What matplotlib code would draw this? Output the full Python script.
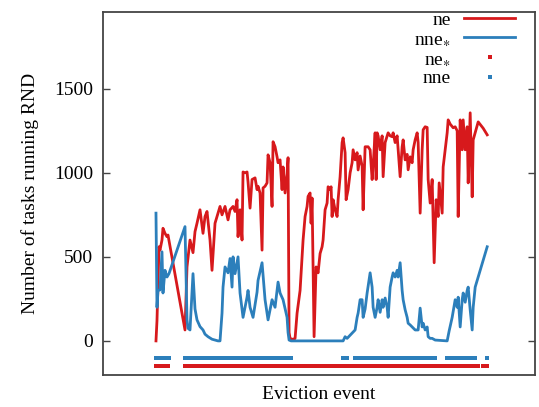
import numpy as np
import matplotlib as mpl
mpl.use('Agg')
import matplotlib.pyplot as plt

plt.rcParams['font.family'] = ['Liberation Serif', 'DejaVu Serif']
plt.rcParams['mathtext.fontset'] = 'stix'

# eviction event index (first event = 0) and number of tasks running RND
ne_x = [1, 2, 4, 5, 7, 8, 10, 12, 13, 30,
        32, 35, 38, 40, 42, 45, 48, 50, 52, 55,
        57, 60, 63, 65, 67, 70, 73, 75, 78, 80,
        82, 83, 85, 87, 88, 90, 92, 93, 95, 97,
        100, 102, 103, 105, 107, 108, 110, 112, 113, 115,
        117, 118, 120, 122, 123, 125, 127, 128, 130, 132,
        133, 134, 135, 137, 139, 140, 142, 145, 147, 148,
        150, 152, 153, 155, 156, 157, 159, 161, 163, 165,
        167, 168, 170, 172, 173, 175, 176, 177, 178, 180,
        182, 183, 185, 187, 188, 190, 191, 193, 195, 197,
        198, 200, 202, 203, 205, 207, 208, 210, 213, 215,
        217, 218, 220, 221, 222, 223, 225, 227, 228, 230,
        233, 235, 237, 238, 240, 242, 245, 247, 248, 250,
        252, 253, 255, 257, 258, 260, 262, 263, 265, 267,
        268, 270, 272, 273, 275, 277, 278, 279, 281, 283,
        284, 287, 288, 290, 292, 293, 295, 298, 300, 302,
        303, 305, 307, 308, 310, 312, 313, 315, 317, 318,
        320, 323, 328, 332]
ne_y = [0, 120, 560, 540, 600, 670, 640, 620, 630, 65,
        440, 600, 525, 650, 700, 780, 640, 740, 770, 600,
        420, 700, 760, 800, 750, 800, 720, 780, 800, 770,
        840, 620, 780, 600, 1005, 1000, 1005, 945, 790, 960,
        970, 900, 920, 880, 540, 910, 920, 940, 1107, 1060,
        800, 1185, 1155, 1095, 1060, 1077, 900, 1035, 880, 1000,
        1090, 50, 15, 10, 10, 15, 165, 300, 500, 600,
        740, 800, 860, 880, 700, 850, 25, 440, 405, 520,
        560, 600, 780, 820, 917, 900, 917, 740, 840, 780,
        740, 840, 977, 1180, 1208, 1120, 840, 900, 1000, 1060,
        1137, 1077, 1120, 1017, 1100, 1040, 780, 1155, 1155, 1137,
        960, 1040, 1238, 960, 1238, 1220, 1137, 1220, 977, 1180,
        1238, 1220, 1215, 1238, 1180, 1220, 977, 1155, 1196, 1077,
        1110, 1018, 1095, 1060, 1137, 1196, 1238, 1180, 760, 1137,
        1256, 1274, 1270, 960, 820, 960, 700, 465, 840, 740,
        940, 760, 1035, 1137, 1238, 1315, 1290, 1268, 1274, 1250,
        740, 1315, 1137, 1315, 1137, 1274, 940, 1357, 857, 1196,
        1238, 1303, 1265, 1226]

nne_x = [1, 2, 3, 5, 7, 8, 10, 12, 14, 30,
         32, 33, 35, 38, 40, 42, 45, 48, 50, 53,
         57, 60, 63, 65, 67, 68, 70, 73, 75, 77,
         78, 80, 83, 85, 88, 92, 93, 95, 98, 102,
         103, 107, 110, 113, 117, 120, 123, 125, 128, 132,
         133, 134, 136, 188, 190, 192, 200, 202, 203, 205,
         207, 208, 210, 212, 215, 217, 218, 220, 222, 223,
         225, 227, 228, 230, 232, 233, 235, 237, 238, 240,
         242, 243, 245, 247, 248, 250, 252, 253, 255, 257,
         260, 263, 265, 267, 268, 270, 272, 273, 275, 277,
         280, 292, 294, 297, 300, 302, 303, 305, 307, 308,
         310, 312, 313, 315, 317, 318, 320, 332]
nne_y = [760, 200, 300, 303, 530, 285, 420, 380, 400, 680,
         125, 75, 65, 400, 190, 125, 85, 65, 40, 25,
         10, 5, 0, 0, 165, 320, 440, 405, 490, 320,
         500, 400, 500, 285, 140, 260, 300, 200, 140, 290,
         360, 465, 245, 125, 245, 200, 350, 285, 245, 140,
         50, 5, 0, 0, 25, 15, 65, 140, 165, 245,
         245, 140, 190, 285, 405, 320, 200, 140, 200, 245,
         170, 245, 200, 255, 200, 140, 320, 380, 405, 380,
         420, 380, 465, 300, 245, 185, 140, 105, 95, 83,
         65, 65, 195, 83, 105, 65, 83, 25, 15, 15,
         5, 0, 60, 140, 245, 200, 260, 83, 245, 285,
         230, 300, 320, 185, 65, 200, 320, 560]

red = '#d7191c'
blue = '#2c7fbb'
fs = 14

fig = plt.figure(figsize=(5.39, 4.07), dpi=100)
ax = fig.add_axes([0.191, 0.079, 0.802, 0.892])

ax.plot(ne_x, ne_y, color=red, lw=2.0, label='ne')
ax.plot(nne_x, nne_y, color=blue, lw=2.0, label=r'nne$_{\ast}$')
# one marker per event at which the series was sampled
ax.plot(ne_x, np.full(len(ne_x), -150), ls='none', marker='s', ms=2.8,
        mew=0, color=red, label=r'ne$_{\ast}$')
ax.plot(nne_x, np.full(len(nne_x), -100), ls='none', marker='s', ms=2.8,
        mew=0, color=blue, label='nne')

ax.set_xlim(-52, 380)
ax.set_ylim(-202, 1958)
ax.set_xticks([])
ax.set_yticks([0, 500, 1000, 1500])
ax.tick_params(axis='y', direction='in', length=5, width=1, color='#444444',
               labelsize=fs, right=True, pad=7)
for s in ax.spines.values():
    s.set_color('#444444')
    s.set_linewidth(1.3)

ax.set_ylabel('Number of tasks running RND', fontsize=fs, labelpad=11)
ax.set_xlabel('Eviction event', fontsize=fs, labelpad=8)

ax.legend(loc='upper right', bbox_to_anchor=(0.96, 1.01), frameon=False,
          markerfirst=False, fontsize=fs, handlelength=2.6,
          handletextpad=0.7, labelspacing=0.1, borderpad=0.15,
          borderaxespad=0.0)

fig.savefig('out.png', dpi=100)
